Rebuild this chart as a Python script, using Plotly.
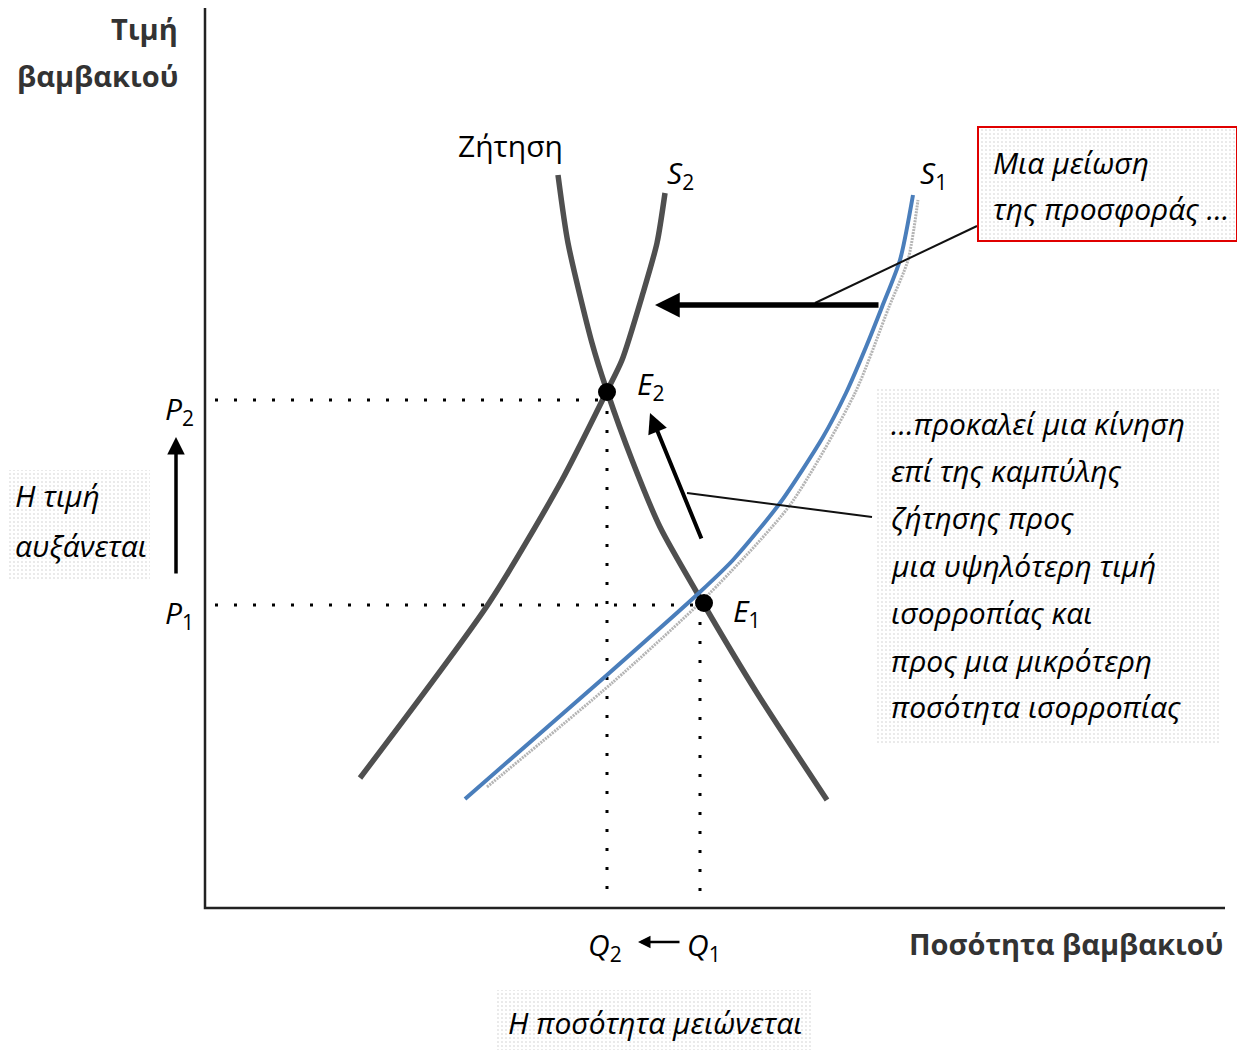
import plotly.graph_objects as go

# ---------------- data (quantity, price units; origin at the axes corner) ----------------
demand_q = [35.3, 36.3, 38.7, 40.2, 42.7, 45.5, 49.8, 55.2, 62.2]
demand_p = [73.3, 66.5, 56.5, 51.7, 44.8, 38.1, 30.5, 21.5, 10.8]

s2_q = [46.0, 45.2, 43.8, 41.7, 40.2, 35.7, 28.4, 15.5]
s2_p = [71.5, 66.5, 61.5, 54.8, 51.7, 42.8, 30.5, 13.0]

s1_q = [26.0, 40.2, 49.5, 52.8, 57.5, 61.8, 64.1, 66.1, 67.7, 69.5, 70.8]
s1_p = [10.9, 23.3, 31.6, 34.8, 40.5, 47.1, 51.5, 56.1, 60.1, 64.8, 71.3]

s1_orig_q = [28.2, 40.7, 50.3, 58.5, 65.0, 68.4, 70.3, 71.3]
s1_orig_p = [12.1, 22.5, 31.3, 40.3, 51.5, 60.1, 64.8, 70.8]

eq_names = ["E1", "E2"]
eq_q = [49.9, 40.2]
eq_p = [30.5, 51.6]

price_levels = [30.3, 50.8]      # P1, P2
qty_levels = [49.5, 40.2]        # Q1, Q2

axis_q_max = 102.0
axis_p_max = 90.0

box_text = ["Μια μείωση", "της προσφοράς …"]
side_text = ["…προκαλεί μια κίνηση", "επί της καμπύλης", "ζήτησης προς",
             "μια υψηλότερη τιμή", "ισορροπίας και", "προς μια μικρότερη",
             "ποσότητα ισορροπίας"]
side_y = [48.5, 43.8, 39.1, 34.3, 29.6, 24.8, 20.2]
price_text = ["Η τιμή", "αυξάνεται"]
qty_text = "Η ποσότητα μειώνεται"
y_title = ["Τιμή", "βαμβακιού"]
x_title = "Ποσότητα βαμβακιού"

FONT = "Open Sans"
GRAY = "#4f4f4f"
BLUE = "#4a7ebb"

fig = go.Figure()

# ---------------- stippled backgrounds ----------------
def stipple(x0, x1, y0, y1):
    fig.add_trace(go.Scatter(
        x=[x0, x1, x1, x0, x0], y=[y0, y0, y1, y1, y0], mode="lines",
        line=dict(width=0, color="rgba(0,0,0,0)"), fill="toself",
        fillcolor="rgba(255,255,255,0)",
        fillpattern=dict(shape=".", size=4, solidity=0.12, fgcolor="#9a9a9a",
                         bgcolor="white"),
        hoverinfo="skip", showlegend=False))

stipple(77.3, 103.2, 66.7, 78.1)
stipple(67.0, 101.5, 16.3, 52.0)
stipple(-20.0, -5.5, 32.8, 43.8)
stipple(29.0, 60.7, -14.2, -8.2)

# ---------------- axes ----------------
fig.add_trace(go.Scatter(x=[0, 0, axis_q_max], y=[axis_p_max, 0, 0], mode="lines",
                         line=dict(color="#222222", width=2.5), hoverinfo="skip",
                         showlegend=False))

# ---------------- dotted guides ----------------
for q, p in zip(eq_q, price_levels):
    fig.add_trace(go.Scatter(x=[1.0, q], y=[p, p], mode="lines",
                             line=dict(color="black", width=3, dash="3px,16px"),
                             hoverinfo="skip", showlegend=False))
for q, p in zip(qty_levels, eq_p):
    fig.add_trace(go.Scatter(x=[q, q], y=[p, 0.4], mode="lines",
                             line=dict(color="black", width=3, dash="3px,16px"),
                             hoverinfo="skip", showlegend=False))

# ---------------- curves ----------------
fig.add_trace(go.Scatter(x=s1_orig_q, y=s1_orig_p, mode="lines",
                         line=dict(color="#b5b5b5", width=3, shape="spline",
                                   smoothing=0.7, dash="2px,1px"),
                         hoverinfo="skip", showlegend=False))
fig.add_trace(go.Scatter(x=demand_q, y=demand_p, mode="lines",
                         line=dict(color=GRAY, width=5.5, shape="spline", smoothing=0.7),
                         hoverinfo="skip", showlegend=False))
fig.add_trace(go.Scatter(x=s2_q, y=s2_p, mode="lines",
                         line=dict(color=GRAY, width=5.5, shape="spline", smoothing=0.7),
                         hoverinfo="skip", showlegend=False))
fig.add_trace(go.Scatter(x=s1_q, y=s1_p, mode="lines",
                         line=dict(color=BLUE, width=4, shape="spline", smoothing=0.7),
                         hoverinfo="skip", showlegend=False))

# connector lines
fig.add_trace(go.Scatter(x=[77.2, 61.0], y=[68.2, 60.5], mode="lines",
                         line=dict(color="#111111", width=2), hoverinfo="skip",
                         showlegend=False))
fig.add_trace(go.Scatter(x=[48.2, 66.7], y=[41.5, 39.1], mode="lines",
                         line=dict(color="#111111", width=2), hoverinfo="skip",
                         showlegend=False))

# equilibrium dots
fig.add_trace(go.Scatter(x=eq_q, y=eq_p, mode="markers", text=eq_names,
                         marker=dict(color="black", size=18),
                         hoverinfo="text", showlegend=False))

# ---------------- arrows ----------------
def arrow(x_head, y_head, x_tail, y_tail, width, size=1.0):
    fig.add_annotation(x=x_head, y=y_head, ax=x_tail, ay=y_tail,
                       xref="x", yref="y", axref="x", ayref="y",
                       showarrow=True, arrowhead=2, arrowsize=size,
                       arrowwidth=width, arrowcolor="black", text="")

arrow(45.0, 60.3, 67.5, 60.3, 5.5, 0.9)
arrow(44.5, 49.5, 49.7, 36.8, 4, 1.0)
arrow(-2.9, 47.1, -2.9, 33.3, 3.5, 1.0)
arrow(43.3, -3.4, 47.6, -3.4, 2.5, 1.0)

# ---------------- text ----------------
def label(x, y, text, size=28, xanchor="center", color="black"):
    fig.add_annotation(x=x, y=y, xref="x", yref="y", text=text, showarrow=False,
                       xanchor=xanchor, yanchor="middle",
                       font=dict(family=FONT, size=size, color=color))

label(-2.5, 88.0, "<b>" + y_title[0] + "</b>", 29, "right", "#333333")
label(-2.5, 83.3, "<b>" + y_title[1] + "</b>", 29, "right", "#333333")
label(102.0, -3.5, "<b>" + x_title + "</b>", 29, "right", "#333333")

label(30.5, 76.3, "Ζήτηση", 30)
label(46.0, 73.4, "<i>S</i><sub>2</sub>", 30, "left")
label(71.3, 73.4, "<i>S</i><sub>1</sub>", 30, "left")
label(43.0, 52.3, "<i>E</i><sub>2</sub>", 30, "left")
label(52.6, 29.6, "<i>E</i><sub>1</sub>", 30, "left")
label(-0.9, 49.8, "<i>P</i><sub>2</sub>", 30, "right")
label(-0.9, 29.4, "<i>P</i><sub>1</sub>", 30, "right")
label(40.0, -3.8, "<i>Q</i><sub>2</sub>", 30, "center")
label(49.9, -3.8, "<i>Q</i><sub>1</sub>", 30, "center")

label(-19.2, 41.3, "<i>" + price_text[0] + "</i>", 30, "left")
label(-19.2, 36.3, "<i>" + price_text[1] + "</i>", 30, "left")

label(78.6, 74.6, "<i>" + box_text[0] + "</i>", 30, "left")
label(78.6, 70.0, "<i>" + box_text[1] + "</i>", 30, "left")

for t, y in zip(side_text, side_y):
    label(68.4, y, "<i>" + t + "</i>", 30, "left")

label(45.0, -11.4, "<i>" + qty_text + "</i>", 30, "center")

# red box
fig.add_shape(type="rect", x0=77.3, x1=103.2, y0=66.7, y1=78.1, xref="x", yref="y",
              line=dict(color="#e00000", width=2), fillcolor="rgba(0,0,0,0)")

# page body has an 8px margin, so the figure is sized/ranged to land on the target pixels
fig.update_layout(
    width=1237, height=1044,
    margin=dict(l=0, r=0, t=0, b=0),
    paper_bgcolor="white", plot_bgcolor="white",
    xaxis=dict(range=[-19.7, 104.0], visible=False, fixedrange=True),
    yaxis=dict(range=[-14.4, 90.0], visible=False, fixedrange=True),
    showlegend=False,
    font=dict(family=FONT),
)

fig.write_html("out.html")
